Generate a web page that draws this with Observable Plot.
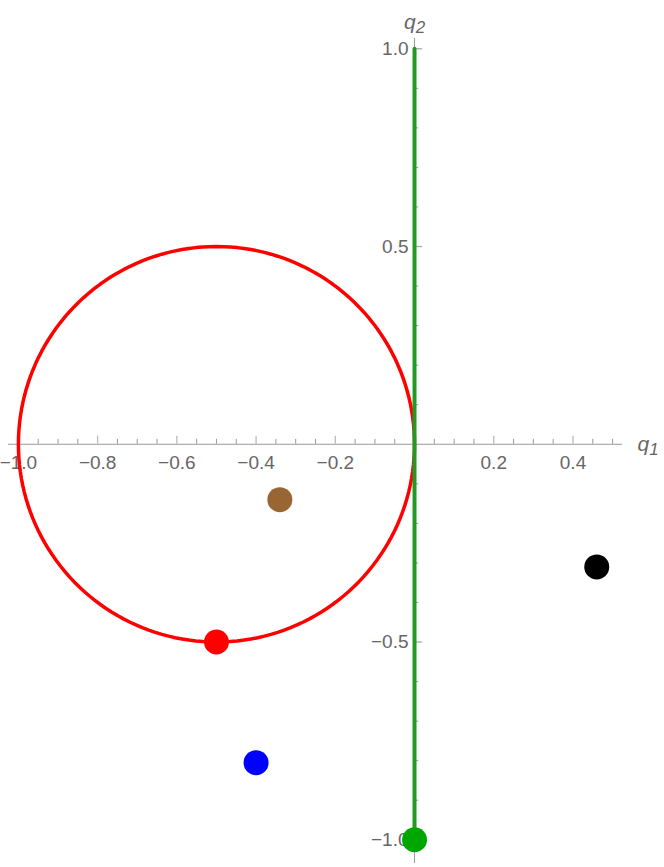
<!DOCTYPE html>
<html>
<head>
<meta charset="utf-8">
<script src="https://cdn.jsdelivr.net/npm/d3@7"></script>
<script src="https://cdn.jsdelivr.net/npm/@observablehq/plot@0.6"></script>
<style>
  html, body { margin: 0; padding: 0; background: #fff; }
  #chart svg { display: block; }
</style>
</head>
<body>
<div id="chart"></div>
<script>
// ---- data ----
const pointNames  = ["brown", "black", "red", "blue", "green"];
const pointQ1     = [-0.34, 0.46, -0.5, -0.4, 0.0];
const pointQ2     = [-0.14, -0.31, -0.5, -0.805, -1.0];
const pointColors = ["#996633", "#000000", "#ff0000", "#0000ff", "#00a600"];

const circleCenter = [-0.5, 0];
const circleRadius = 0.5;

const lineQ1 = [0, 0];
const lineQ2 = [-1, 1];

const xTickValues = [-1.0, -0.8, -0.6, -0.4, -0.2, 0.2, 0.4];
const xTickLabels = ["\u22121.0", "\u22120.8", "\u22120.6", "\u22120.4", "\u22120.2", "0.2", "0.4"];
const xMajorTicks = [-1.0, -0.8, -0.6, -0.4, -0.2, 0.2, 0.4];
const yTickValues = [-1.0, -0.5, 0.5, 1.0];
const yTickLabels = ["\u22121.0", "\u22120.5", "0.5", "1.0"];
const yMajorTicks = [-1.0, -0.5, 0.5, 1.0];
const xMinorTicks = d3.range(-19, 11).map(k => k * 0.05).filter(v => Math.abs(Math.round(v * 5) - v * 5) > 1e-6);
const yMinorTicks = d3.range(-9, 10).map(k => k * 0.1).filter(v => Math.abs(Math.round(v * 2) - v * 2) > 1e-6);
const axisTitles = [{base: "q", sub: "2"}, {base: "q", sub: "1"}];

// ---- derived tables ----
const points = pointNames.map((n, i) => ({name: n, q1: pointQ1[i], q2: pointQ2[i], color: pointColors[i]}));
const circle = d3.range(0, 361, 2).map(a => ({
  q1: circleCenter[0] + circleRadius * Math.cos(a * Math.PI / 180),
  q2: circleCenter[1] + circleRadius * Math.sin(a * Math.PI / 180)
}));
const greenLine = lineQ1.map((v, i) => ({q1: v, q2: lineQ2[i]}));

const font = "'Liberation Sans', Arial, Helvetica, sans-serif";
const labelColor = "#666666";

const chart = Plot.plot({
  width: 664,
  height: 867,
  marginLeft: 8,
  marginRight: 42,
  marginTop: 38,
  marginBottom: 4,
  x: {domain: [-1.025, 0.525], axis: null},
  y: {domain: [-1.06, 1.026], axis: null},
  style: {fontFamily: font, background: "#fff", overflow: "visible"},
  marks: [
    // tick labels
    Plot.text(xTickValues, {x: d => d, y: 0, text: (d, i) => xTickLabels[i], dy: 19, fontSize: 19, fill: labelColor, fontFamily: font}),
    Plot.text(yTickValues, {x: 0, y: d => d, text: (d, i) => yTickLabels[i], dx: -6, textAnchor: "end", fontSize: 19, fill: labelColor, fontFamily: font}),
    // axes lines
    Plot.ruleY([0], {stroke: "#999", strokeWidth: 1}),
    Plot.ruleX([0], {stroke: "#999", strokeWidth: 1}),
    // x ticks (upwards)
    Plot.ruleX(xMinorTicks, {x: d => d, y: 0.0125, stroke: "#999", strokeWidth: 1}),
    Plot.ruleX(xMajorTicks, {x: d => d, y: 0.0205, stroke: "#bbb", strokeWidth: 1.3}),
    // y ticks (rightwards)
    Plot.ruleY(yMinorTicks, {y: d => d, x: 0.0105, stroke: "#999", strokeWidth: 1}),
    Plot.ruleY(yMajorTicks, {y: d => d, x: 0.0205, stroke: "#aaa", strokeWidth: 1.3}),
    // red circle
    Plot.line(circle, {x: "q1", y: "q2", stroke: "#ff0000", strokeWidth: 3.5}),
    // green line
    Plot.line(greenLine, {x: "q1", y: "q2", stroke: "#229922", strokeWidth: 4}),
    // points
    Plot.dot(points, {x: "q1", y: "q2", r: 12.5, fill: "color", stroke: null}),
    // axis titles
    Plot.text([axisTitles[0]], {x: 0, frameAnchor: "top", dy: -24, text: d => d.base + d.sub, fontSize: 21, fontStyle: "italic", fill: labelColor, fontFamily: font, className: "axtitle"}),
    Plot.text([axisTitles[1]], {y: 0, frameAnchor: "right", dx: 15, textAnchor: "start", text: d => d.base + d.sub, fontSize: 21, fontStyle: "italic", fill: labelColor, fontFamily: font, className: "axtitle"})
  ]
});

// turn the trailing digit of axis titles into a subscript tspan (still real text)
d3.select(chart).selectAll("g.axtitle text").each(function() {
  const t = this.textContent;
  const base = t.slice(0, -1), sub = t.slice(-1);
  const sel = d3.select(this);
  sel.text(null);
  sel.append("tspan").text(base);
  sel.append("tspan").attr("dy", "0.22em").attr("font-size", 17).text(sub);
});

document.getElementById("chart").appendChild(chart);
</script>
</body>
</html>
